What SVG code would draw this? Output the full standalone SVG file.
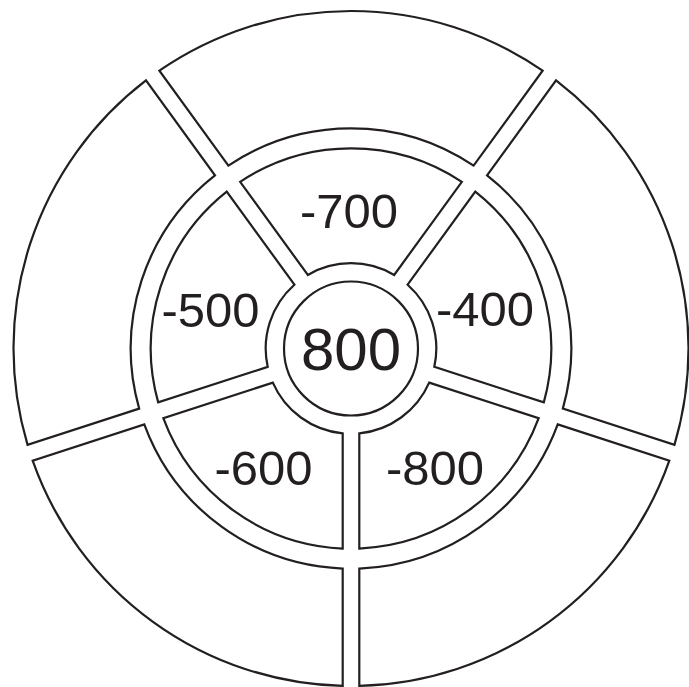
<svg xmlns="http://www.w3.org/2000/svg" width="689" height="687" viewBox="0 0 689 687">
<style>
.seg{fill:#fff;stroke:#231f20;stroke-width:2.2;stroke-linejoin:miter}
.lbl{font-family:"Liberation Sans",Arial,sans-serif;font-size:49px;fill:#231f20;text-anchor:middle}
.big{font-size:60px}
</style>
<rect width="689" height="687" fill="#fff"/>
<g id="outer-ring">
<path id="outer-bottom-right" class="seg" d="M 557.709,424.391 L 669.320,460.656 A 337.5 337.5 0 0 1 359.3,685.898 L 359.3,568.544 A 220.2 220.2 0 0 0 557.709,424.391 Z"/>
<path id="outer-bottom-left" class="seg" d="M 342.7,568.544 L 342.7,685.898 A 337.5 337.5 0 0 1 32.680,460.656 L 144.291,424.391 A 220.2 220.2 0 0 0 342.7,568.544 Z"/>
<path id="outer-left" class="seg" d="M 139.161,408.603 L 27.550,444.868 A 337.5 337.5 0 0 1 145.968,80.418 L 214.947,175.360 A 220.2 220.2 0 0 0 139.161,408.603 Z"/>
<path id="outer-top" class="seg" d="M 228.377,165.602 L 159.398,70.660 A 337.5 337.5 0 0 1 542.602,70.660 L 473.623,165.602 A 220.2 220.2 0 0 0 228.377,165.602 Z"/>
<path id="outer-right" class="seg" d="M 487.053,175.360 L 556.032,80.418 A 337.5 337.5 0 0 1 674.450,444.868 L 562.839,408.603 A 220.2 220.2 0 0 0 487.053,175.360 Z"/>
</g>
<g id="node-m800">
<path class="seg" d="M 429.175,382.628 L 538.673,418.206 A 200.2 200.2 0 0 1 359.3,548.528 L 359.3,433.395 A 85.3 85.3 0 0 0 429.175,382.628 Z"/>
<text class="lbl" x="435" y="485">-800</text>
</g>
<g id="node-m600">
<path class="seg" d="M 342.7,433.395 L 342.7,548.528 A 200.2 200.2 0 0 1 163.327,418.206 L 272.825,382.628 A 85.3 85.3 0 0 0 342.7,433.395 Z"/>
<text class="lbl" x="263.5" y="485">-600</text>
</g>
<g id="node-m500">
<path class="seg" d="M 267.695,366.840 L 158.197,402.418 A 200.2 200.2 0 0 1 226.712,191.553 L 294.385,284.698 A 85.3 85.3 0 0 0 267.695,366.840 Z"/>
<text class="lbl" x="210.5" y="327">-500</text>
</g>
<g id="node-m700">
<path class="seg" d="M 307.815,274.940 L 240.142,181.795 A 200.2 200.2 0 0 1 461.861,181.795 L 394.185,274.940 A 85.3 85.3 0 0 0 307.815,274.940 Z"/>
<text class="lbl" x="349" y="228">-700</text>
</g>
<g id="node-m400">
<path class="seg" d="M 407.615,284.698 L 475.288,191.553 A 200.2 200.2 0 0 1 543.803,402.418 L 434.305,366.840 A 85.3 85.3 0 0 0 407.615,284.698 Z"/>
<text class="lbl" x="485" y="326">-400</text>
</g>
<g id="node-center">
<circle class="seg" cx="351" cy="348.5" r="67"/>
<text class="lbl big" x="351" y="370">800</text>
</g>
<g id="connectors"/>
</svg>
